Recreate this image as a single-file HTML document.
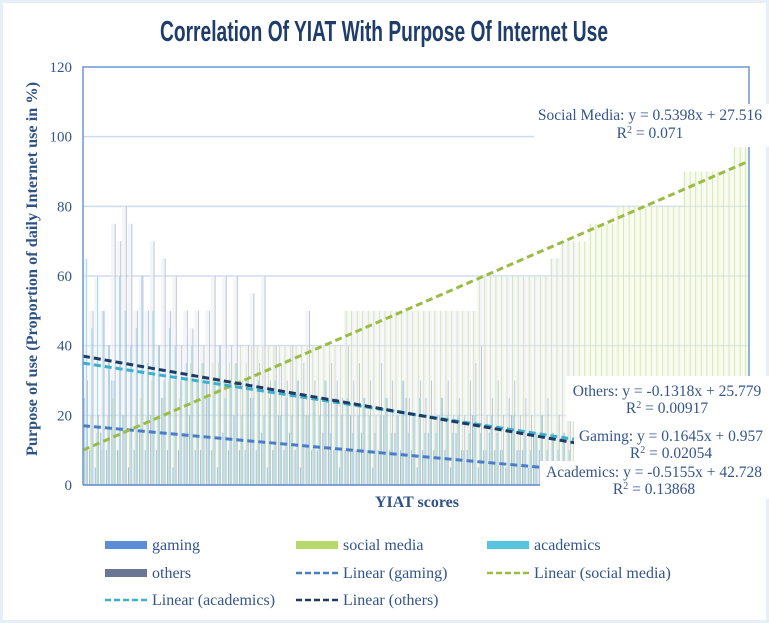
<!DOCTYPE html>
<html><head><meta charset="utf-8"><style>
html,body{margin:0;padding:0;background:#fff}
svg{display:block}
text{font-family:"Liberation Serif",serif}
</style></head><body>
<svg id="chart" width="769" height="623" viewBox="0 0 769 623">
<rect x="0" y="0" width="769" height="623" fill="#e6eef7"/>
<rect x="3" y="3" width="763" height="617" fill="#fff"/>
<text x="160" y="41" font-size="29" font-weight="bold" fill="#1f3d6b" textLength="448" lengthAdjust="spacingAndGlyphs" style="font-family:'Liberation Sans Narrow','Liberation Sans',sans-serif">Correlation Of YIAT With Purpose Of Internet Use</text>
<g id="grid"></g>
<g id="bars"></g>
<g id="trends"></g>
<g id="axes"></g>
<g id="labels"></g>
<text transform="translate(37,269) rotate(-90)" text-anchor="middle" font-size="16" font-weight="bold" fill="#2f5287" textLength="374" lengthAdjust="spacingAndGlyphs">Purpose of use (Proportion of daily Internet use in %)</text>
<text x="417" y="507" text-anchor="middle" font-size="16" font-weight="bold" fill="#2f5287">YIAT scores</text>
<g id="legend"></g>
</svg>
<script>
const yTicks = [0,20,40,60,80,100,120];
const social = [10,20,15,10,20,25,10,20,15,20,25,20,30,20,25,30,30,25,30,35,30,35,30,35,35,30,35,35,40,35,40,40,40,40,40,40,40,40,40,40,40,40,40,40,40,40,40,50,50,50,50,50,50,50,50,50,50,50,50,50,50,50,50,50,50,50,50,50,50,50,50,60,60,60,60,60,60,60,60,60,60,60,60,60,65,65,70,70,70,70,70,75,75,75,75,75,80,80,80,80,80,80,80,80,80,80,80,80,90,90,90,90,90,90,90,90,90,97,97,97];
const gaming = [25,10,5,15,10,30,10,20,5,10,15,10,20,10,25,10,5,10,15,20,10,10,30,10,5,15,10,20,10,10,25,10,15,5,10,20,10,15,10,5,20,10,10,15,25,10,5,10,20,10,15,10,5,10,20,10,15,10,25,10,5,10,15,10,20,10,5,15,10,10,20,5,10,15,10,10,5,20,10,10,5,15,10];
const academics = [65,45,60,50,40,30,60,50,40,45,60,35,50,40,30,45,40,30,35,40,30,35,25,30,40,25,30,35,20,30,25,30,20,25,30,20,25,20,30,25,20,25,20,30,15,25,20,25,15,20,25,20,15,20,25,15,20,30,15,20,25,15,20,15,25,20,15,20,10,15,20,15,10,20,15,10,15,20,10,15,10,15,20,10,15,10,15,10,10];
const others = [30,50,20,50,40,75,70,80,75,50,60,50,70,40,65,50,60,40,50,45,50,40,50,60,40,60,40,60,30,40,55,35,60,30,40,35,30,40,30,35,50,30,25,30,35,30,25,40,30,35,25,30,20,35,25,30,20,30,25,20,30,25,30,20,25,30,20,25,20,30,35,40,20,25,30,20,25,30,20,25,20,15,20,25,15,20,15,20,15];
const trendGaming = [17,5];
const trendSocial = [10,93];
const trendAcademics = [35,13];
const trendOthers = [37,12];
const trendEndIndex = [82,119,88,88];

const NS='http://www.w3.org/2000/svg';
const X0=83,X1=749,Y0=485,Y1=67;
const N=social.length;
const bw=(X1-X0)/N;
const yS=v=>Y0-(v/120)*(Y0-Y1);
const xS=i=>X0+(i+0.5)*bw;
function mk(tag,attrs,parent){const e=document.createElementNS(NS,tag);for(const k in attrs)e.setAttribute(k,attrs[k]);parent.appendChild(e);return e;}
const grid=document.getElementById('grid'),bars=document.getElementById('bars'),trends=document.getElementById('trends'),axes=document.getElementById('axes'),labels=document.getElementById('labels'),legend=document.getElementById('legend');

yTicks.forEach(t=>{
  if(t>0&&t<120){const g=mk('line',{x1:X0,x2:X1,y1:yS(t),y2:yS(t),stroke:'#cddcf0','stroke-width':1.5},grid);
  
  }
  const tx=mk('text',{x:72,y:yS(t)+5,'text-anchor':'end','font-size':15,fill:'#34558a'},axes);
  tx.textContent=t;
  
  
});

const series=[[gaming,'#4f82d0',-1.5],[social,'#b9d872',-0.5],[academics,'#4fc3de',0.5],[others,'#8e98b8',1.5]];
for(let i=0;i<N;i++){
  const mx=Math.max(gaming[i]||0,academics[i]||0,others[i]||0,social[i]||0);
  const f=mk('rect',{x:X0+i*bw+0.3,y:yS(mx),width:bw-0.6,height:Y0-yS(mx),fill:(i>=89?'#f1f6e4':'#eceff4'),opacity:0.6},bars);
  
  
  series.forEach(([arr,col,off],si)=>{
    const v=arr[i];if(v===undefined||v<=0)return;
    const b=mk('rect',{x:xS(i)+off*1.1-0.4,y:yS(v),width:0.8,height:Y0-yS(v),fill:col,opacity:0.6},bars);
    
    
  });
}

const tl=[[trendGaming,'#4a7cc8',trendEndIndex[0],'gaming'],[trendSocial,'#9bbb45',trendEndIndex[1],'social'],[trendAcademics,'#3cb0cc',trendEndIndex[2],'academics'],[trendOthers,'#1f3b63',trendEndIndex[3],'others']];
tl.forEach(([t,c,e,n])=>{
  const l=mk('line',{x1:X0,y1:yS(t[0]),x2:X0+(e+1)*bw,y2:yS(t[1]),stroke:c,'stroke-width':3,'stroke-dasharray':'7 4'},trends);
  
  
});

const ax=mk('path',{d:`M${X0},${Y0} L${X0},${Y1} L${X1},${Y1} L${X1},${Y0}`,fill:'none',stroke:'#6b98d6','stroke-width':1.5},axes);


const bx=mk('line',{x1:X0,x2:X1,y1:Y0,y2:Y0,stroke:'#5b88c8','stroke-width':1.5},axes);



const eq=[
 ['social-media-equation',534,104,769,147,'Social Media: y = 0.5398x + 27.516','0.071',120,138,650],
 ['others-equation',566,376,769,421,'Others: y = -0.1318x + 25.779','0.00917',396,413,667],
 ['gaming-equation',574,421,769,461,'Gaming: y = 0.1645x + 0.957','0.02054',441,458,671],
 ['academics-equation',540,461,769,499,'Academics: y = -0.5155x + 42.728','0.13868',477,494,654]
];
eq.forEach(([n,x1,y1,x2,y2,l1,r2,ty1,ty2,cx])=>{
  const g=mk('g',{},labels);
  
  
  mk('rect',{x:x1,y:y1,width:x2-x1,height:y2-y1,fill:'#fff'},g);
  const a=mk('text',{x:cx,y:ty1,'text-anchor':'middle','font-size':15.5,fill:'#34558a'},g);a.textContent=l1;
  const b=mk('text',{x:cx,y:ty2,'text-anchor':'middle','font-size':15.5,fill:'#34558a'},g);
  b.innerHTML='R<tspan dy="-5" font-size="10">2</tspan><tspan dy="5"> = '+r2+'</tspan>';
});

const leg=[
 ['gaming',105,545,'bar','#5b8ed6'],['social media',296,545,'bar','#b7d86c'],['academics',487,545,'bar','#56c6e0'],
 ['others',105,573,'bar','#6b7594'],['Linear (gaming)',296,573,'dash','#4a7cc8'],['Linear (social media)',487,573,'dash','#9bbb45'],
 ['Linear (academics)',105,600,'dash','#3cb0cc'],['Linear (others)',296,600,'dash','#1f3b63']
];
leg.forEach(([t,x,y,k,c])=>{
  const g=mk('g',{},legend);
  
  
  if(k==='bar')mk('rect',{x:x,y:y-4,width:42,height:8,fill:c},g);
  else mk('line',{x1:x,x2:x+42,y1:y,y2:y,stroke:c,'stroke-width':2.5,'stroke-dasharray':'6 3'},g);
  const tx=mk('text',{x:x+47,y:y+5,'font-size':16,fill:'#34558a'},g);tx.textContent=t;
});
</script>
</body></html>
